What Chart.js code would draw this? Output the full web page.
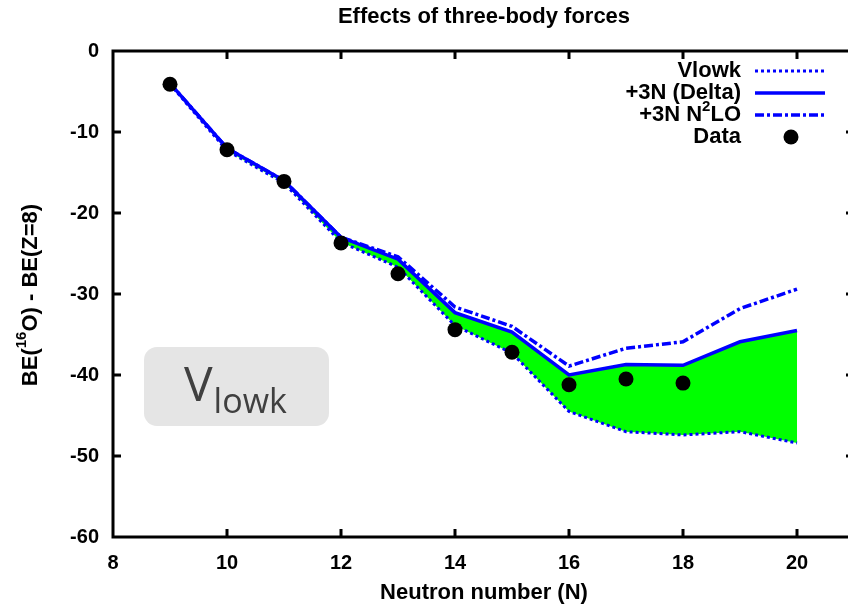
<!DOCTYPE html>
<html>
<head>
<meta charset="utf-8">
<script src="https://cdn.jsdelivr.net/npm/chart.js@4.4.1/dist/chart.umd.min.js"></script>
<style>
  html, body { margin: 0; padding: 0; background: #fff; overflow: hidden; }
  #wrap { width: 848px; height: 605px; overflow: hidden; position: relative; }
  canvas { display: block; }
</style>
</head>
<body>
<div id="wrap"><canvas id="chart" width="862" height="605"></canvas></div>
<script>
// Neutron numbers for the calculated oxygen chain
const neutronN = [9, 10, 11, 12, 13, 14, 15, 16, 17, 18, 19, 20];
// BE(16O) - BE(Z=8) in MeV for each interaction
const vlowk   = [-4.1, -12.3, -16.3, -23.6, -26.7, -33.9, -37.3, -44.5, -47.0, -47.4, -47.0, -48.4];
const delta3N = [-4.0, -12.0, -16.0, -23.0, -25.7, -32.3, -34.7, -40.0, -38.7, -38.8, -35.9, -34.5];
const n2lo3N  = [-4.0, -12.0, -16.0, -23.0, -25.4, -31.6, -34.0, -38.9, -36.7, -35.9, -31.8, -29.4];
// Experimental values
const dataN      = [9, 10, 11, 12, 13, 14, 15, 16, 17, 18];
const dataValues = [-4.1, -12.2, -16.1, -23.7, -27.5, -34.4, -37.2, -41.2, -40.5, -41.0];
// Axis tick labels
const xTicks = [8, 10, 12, 14, 16, 18, 20];
const yTicks = [-60, -50, -40, -30, -20, -10, 0];

const BLUE = '#0000ff';
const GREEN = '#00ff00';
const FONT = '"Liberation Sans", Arial, Helvetica, sans-serif';

const pts = (xs, ys) => xs.map((x, i) => ({ x: x, y: ys[i] }));

// Frame, inward ticks, titles, key and the interaction label box
const decorations = {
  id: 'decorations',
  beforeDatasetsDraw(chart) {
    const ctx = chart.ctx;
    // rounded label box
    const bx = 144, by = 347, bw = 185, bh = 79, r = 13;
    ctx.save();
    ctx.fillStyle = '#e5e5e5';
    ctx.beginPath();
    ctx.moveTo(bx + r, by);
    ctx.arcTo(bx + bw, by, bx + bw, by + bh, r);
    ctx.arcTo(bx + bw, by + bh, bx, by + bh, r);
    ctx.arcTo(bx, by + bh, bx, by, r);
    ctx.arcTo(bx, by, bx + bw, by, r);
    ctx.closePath();
    ctx.fill();
    ctx.fillStyle = '#404040';
    ctx.textBaseline = 'alphabetic';
    ctx.textAlign = 'left';
    ctx.font = '48px "Open Sans", sans-serif';
    ctx.fillText('V', 184, 401);
    const vw = ctx.measureText('V').width;
    ctx.font = '34px "Open Sans", sans-serif';
    ctx.fillText('lowk', 184 + vw + 1, 413);
    ctx.restore();
  },
  afterDraw(chart) {
    const ctx = chart.ctx;
    const a = chart.chartArea;
    const xs = chart.scales.x, ys = chart.scales.y;
    ctx.save();
    // frame
    ctx.strokeStyle = '#000';
    ctx.lineWidth = 3;
    ctx.strokeRect(a.left, a.top, a.right - a.left, a.bottom - a.top);
    // inward ticks
    const tl = 8;
    ctx.lineWidth = 3;
    ctx.beginPath();
    xTicks.forEach(v => {
      const px = xs.getPixelForValue(v);
      if (v === xs.min) return;
      ctx.moveTo(px, a.bottom); ctx.lineTo(px, a.bottom - tl);
      ctx.moveTo(px, a.top); ctx.lineTo(px, a.top + tl);
    });
    yTicks.forEach(v => {
      const py = ys.getPixelForValue(v);
      if (v === ys.min || v === ys.max) return;
      ctx.moveTo(a.left, py); ctx.lineTo(a.left + tl, py);
      ctx.moveTo(a.right, py); ctx.lineTo(a.right - tl, py);
    });
    ctx.stroke();

    ctx.fillStyle = '#000';
    // main title
    ctx.font = 'bold 22px ' + FONT;
    ctx.textAlign = 'center';
    ctx.textBaseline = 'middle';
    ctx.fillText('Effects of three-body forces', 484, 17);
    // x axis title
    ctx.font = 'bold 22px ' + FONT;
    ctx.fillText('Neutron number (N)', 484, 593);

    // y axis title with superscript mass number
    const big = 'bold 22px ' + FONT, small = 'bold 15px ' + FONT;
    ctx.save();
    ctx.translate(31, 295);
    ctx.rotate(-Math.PI / 2);
    const parts = [['BE(', big, 0], ['16', small, -9], ['O) - BE(Z=8)', big, 0]];
    let total = 0;
    parts.forEach(p => { ctx.font = p[1]; total += ctx.measureText(p[0]).width; });
    let cx = -total / 2;
    ctx.textAlign = 'left';
    parts.forEach(p => { ctx.font = p[1]; ctx.fillText(p[0], cx, p[2]); cx += ctx.measureText(p[0]).width; });
    ctx.restore();

    // key
    const keyRight = 741, s0 = 755, s1 = 825;
    const rows = [71, 93, 115, 137];
    ctx.textAlign = 'left';
    ctx.textBaseline = 'middle';
    const drawRight = (segs, y) => {
      let w = 0;
      segs.forEach(s => { ctx.font = s[1]; w += ctx.measureText(s[0]).width; });
      let x = keyRight - w;
      segs.forEach(s => { ctx.font = s[1]; ctx.fillText(s[0], x, y + s[2]); x += ctx.measureText(s[0]).width; });
    };
    drawRight([['Vlowk', big, 0]], rows[0]);
    drawRight([['+3N (Delta)', big, 0]], rows[1]);
    drawRight([['+3N N', big, 0], ['2', small, -8], ['LO', big, 0]], rows[2]);
    drawRight([['Data', big, 0]], rows[3]);

    const ds = chart.data.datasets;
    [ds[3], ds[1], ds[2]].forEach((d, i) => {
      ctx.strokeStyle = d.borderColor;
      ctx.lineWidth = d.borderWidth;
      ctx.setLineDash(d.borderDash || []);
      ctx.beginPath();
      ctx.moveTo(s0, rows[i]); ctx.lineTo(s1, rows[i]);
      ctx.stroke();
    });
    ctx.setLineDash([]);
    ctx.fillStyle = '#000';
    ctx.beginPath();
    ctx.arc(791, rows[3], 7.5, 0, Math.PI * 2);
    ctx.fill();
    ctx.restore();
  }
};

new Chart(document.getElementById('chart'), {
  type: 'line',
  data: {
    datasets: [
      {
        label: 'Data',
        data: pts(dataN, dataValues),
        showLine: false,
        pointRadius: 7.5,
        pointBackgroundColor: '#000',
        pointBorderWidth: 0,
        borderColor: '#000'
      },
      {
        label: '+3N (Delta)',
        data: pts(neutronN, delta3N),
        borderColor: BLUE,
        borderWidth: 3.5,
        pointRadius: 0,
        fill: { target: 3, above: GREEN, below: GREEN },
        backgroundColor: GREEN,
        tension: 0
      },
      {
        label: '+3N N2LO',
        data: pts(neutronN, n2lo3N),
        borderColor: BLUE,
        borderWidth: 3.5,
        borderDash: [9, 3, 3, 3],
        pointRadius: 0,
        fill: false,
        tension: 0
      },
      {
        label: 'Vlowk',
        data: pts(neutronN, vlowk),
        borderColor: BLUE,
        borderWidth: 3,
        borderDash: [3, 3],
        pointRadius: 0,
        fill: false,
        tension: 0
      }
    ]
  },
  options: {
    responsive: false,
    animation: false,
    layout: { padding: { top: 51, right: 8, left: 0, bottom: 0 } },
    plugins: {
      legend: { display: false },
      tooltip: { enabled: false },
      title: { display: false },
      filler: { drawTime: 'beforeDatasetsDraw' }
    },
    scales: {
      x: {
        type: 'linear',
        min: 8,
        max: 21,
        afterBuildTicks: s => { s.ticks = xTicks.map(v => ({ value: v })); },
        afterFit: s => { s.height = 68; },
        grid: { display: false, drawTicks: false },
        border: { display: false },
        ticks: { color: '#000', font: { family: FONT, size: 20, weight: 'bold' }, padding: 14, maxRotation: 0 }
      },
      y: {
        type: 'linear',
        min: -60,
        max: 0,
        afterBuildTicks: s => { s.ticks = yTicks.map(v => ({ value: v })); },
        afterFit: s => { s.width = 113; },
        grid: { display: false, drawTicks: false },
        border: { display: false },
        ticks: { color: '#000', font: { family: FONT, size: 20, weight: 'bold' }, padding: 14 }
      }
    }
  },
  plugins: [decorations]
});
</script>
</body>
</html>
